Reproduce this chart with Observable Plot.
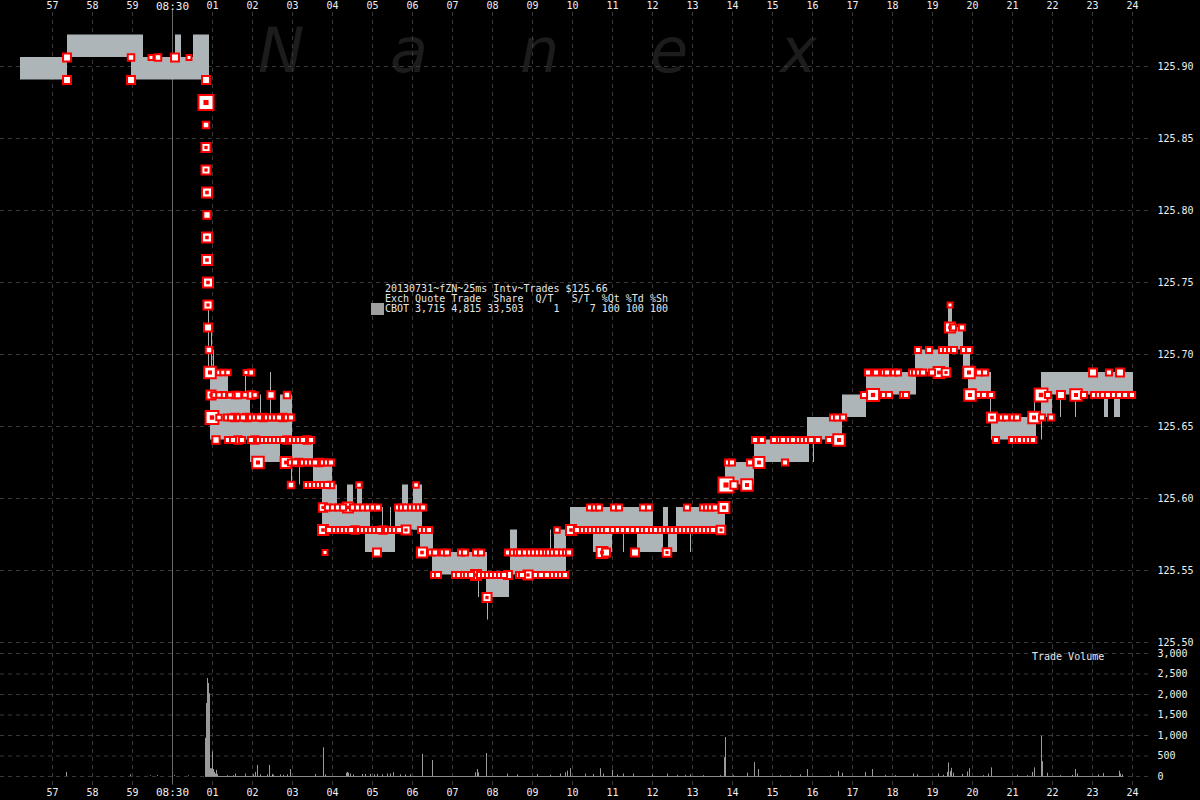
<!DOCTYPE html>
<html><head><meta charset="utf-8">
<script src="https://cdn.jsdelivr.net/npm/d3@7"></script>
<script src="https://cdn.jsdelivr.net/npm/@observablehq/plot@0.6"></script>
<style>
html,body{margin:0;padding:0;background:#000;}
#wrap{position:relative;width:1200px;height:800px;background:#000;overflow:hidden;font-family:"DejaVu Sans Mono",monospace;}
#price{position:absolute;left:0;top:0;}
#vol{position:absolute;left:0;top:645px;}
.wm{position:absolute;top:14px;font-family:"DejaVu Sans",sans-serif;font-style:italic;font-size:62px;color:#1c1c1c;}
#legend{position:absolute;left:385px;top:284px;font-size:10px;line-height:10px;color:#e6e6e6;white-space:pre;}
#swatch{position:absolute;left:371px;top:303px;width:13px;height:12px;background:#a0a0a0;}
#tv{position:absolute;left:1032px;top:651px;font-size:10px;line-height:12px;color:#e8e8e8;}
</style></head>
<body><div id="wrap">
<div class="wm" style="left:258px">N</div><div class="wm" style="left:390px">a</div><div class="wm" style="left:520px">n</div><div class="wm" style="left:650px">e</div><div class="wm" style="left:780px">x</div>
<div id="price"></div><div id="vol"></div>
<div id="swatch"></div>
<div id="legend">20130731~fZN~25ms Intv~Trades $125.66
Exch Quote Trade  Share  Q/T   S/T  %Qt %Td %Sh
CBOT 3,715 4,815 33,503     1     7 100 100 100</div>
<div id="tv">Trade Volume</div>
</div>
<script>
// time in 25ms bins from 08:30:00.000 ; price levels in 64ths above 125
const BASE = 125, TICK = 1/64;
const secTicks = d3.range(-3, 25);
const secLabels = ["57","58","59","08:30","01","02","03","04","05","06","07","08","09","10","11","12","13","14","15","16","17","18","19","20","21","22","23","24"];
const priceTicks = [125.50,125.55,125.60,125.65,125.70,125.75,125.80,125.85,125.90];
const volTicks = [0,500,1000,1500,2000,2500,3000];

// quote band segments: [startBin, endBin, bidLevel, askLevel]
const quotes = [
[-152,-105,57,58],[-105,-41,58,59],[-41,-29,57,59],[-29,3,57,58],[3,9,57,59],[9,21,57,58],[21,37,57,59],
[36,37,44,47],[39,40,44,46],[41,42,44,45],
[38,56,41,44],[56,78,41,43],[78,108,40,42],[98,99,40,44],[73,74,41,44],[88,89,40,43],[43,44,41,44],
[108,120,41,43],[120,141,40,41],[119,120,39,40],[127,128,39,40],[141,160,39,40],
[150,165,37,39],[165,198,37,38],[175,181,37,39],[185,190,37,39],
[193,223,36,37],[210,211,36,38],[218,219,36,38],
[223,248,37,38],[230,236,37,39],[241,250,37,39],[248,261,36,37],
[260,315,35,36],[306,307,34,35],[314,337,34,35],[315,316,33,34],
[338,345,35,37],[345,383,35,36],[378,379,35,37],[382,394,35,37],
[398,421,37,38],[421,440,36,38],[440,465,37,38],[451,452,36,37],[465,481,36,38],[481,491,36,37],[491,496,37,38],[496,505,36,37],[504,553,37,38],[518,519,36,37],
[553,582,39,40],[582,636,40,41],[636,637,40,42],[641,642,40,42],[635,670,41,42],[670,694,42,43],[694,744,43,44],
[743,777,44,45],[776,780,45,47],[779,791,45,46],[791,798,44,45],[796,819,43,44],[818,819,42,44],
[819,864,41,42],[862,863,41,43],[869,870,41,43],[869,932,43,44],[869,880,42,44],[888,889,42,43],[903,904,42,43],
[932,936,42,44],[934,961,43,44],[942,948,42,44]
];

// trades: [bin, priceLevel, size]
const trades = [
[-106,58,20],[-106,57,20],[-42,58,10],[-42,57,20],[-22,58,3],[-15,58,10],[2,58,20],[16,58,3],[33,57,20],
[33,56,120],[33,55,10],[33,54,30],[33,53,30],[34,52,40],[34,51,15],[34,50,40],[34,49,40],[35,48,40],[35,47,30],[35,46,20],[36,45,10],
[37,44,60],[46,44,5],[50,44,5],[55,44,5],[73,44,3],[78,44,8],
[38,43,30],[41,43,5],[46,43,5],[50,43,8],[57,43,5],[62,43,10],[65,43,10],[72,43,5],[78,43,15],[82,43,5],[98,43,15],[114,43,10],
[39,42,80],[46,42,5],[54,42,8],[58,42,8],[62,42,15],[66,42,8],[70,42,8],[74,42,15],[78,42,8],[82,42,8],[86,42,8],[90,42,15],[94,42,8],[98,42,8],[102,42,8],[106,42,8],[110,42,15],[114,42,8],[118,42,8],
[43,41,15],[55,41,8],[60,41,8],[65,41,15],[69,41,8],[78,41,8],[82,41,15],[86,41,8],[90,41,8],[94,41,8],[98,41,8],[102,41,8],[106,41,8],[110,41,8],[114,41,15],[118,41,8],[122,41,8],[126,41,8],[130,41,8],[134,41,15],[138,41,8],
[85,40,60],[113,40,50],[118,40,8],[122,40,8],[126,40,15],[130,40,8],[134,40,8],[138,40,8],[142,40,8],[146,40,15],[150,40,8],[154,40,8],[158,40,8],
[118,39,10],[134,39,8],[138,39,8],[142,39,8],[146,39,8],[150,39,8],[154,39,8],[158,39,10],[186,39,5],[243,39,5],
[150,38,25],[155,38,8],[160,38,8],[165,38,8],[170,38,8],[175,38,40],[180,38,8],[185,38,8],[190,38,8],[195,38,8],[200,38,8],[205,38,8],[225,38,8],[229,38,8],[233,38,8],[238,38,8],[242,38,8],[246,38,8],[250,38,8],
[150,37,40],[156,37,8],[162,37,8],[166,37,8],[170,37,8],[174,37,8],[178,37,8],[182,37,15],[186,37,8],[190,37,8],[194,37,8],[198,37,8],[202,37,8],[206,37,8],[210,37,15],[214,37,8],[218,37,8],[222,37,8],[226,37,8],[233,37,30],[248,37,8],[252,37,8],[256,37,8],
[384,37,5],[398,37,40],[404,37,8],[410,37,8],[414,37,8],[418,37,8],[422,37,8],[426,37,8],[430,37,8],[434,37,8],[440,37,8],[445,37,8],[450,37,8],[455,37,8],[460,37,8],[465,37,8],[470,37,8],[474,37,8],[479,37,8],[483,37,8],[488,37,8],[492,37,8],[496,37,8],[500,37,8],[504,37,8],[508,37,8],[512,37,8],[516,37,8],[520,37,8],[524,37,8],[528,37,8],[532,37,8],[536,37,8],[540,37,8],[548,37,25],
[152,36,3],[204,36,20],[249,36,40],[258,36,8],[262,36,8],[270,36,8],[274,36,8],[288,36,8],[292,36,8],[303,36,8],[308,36,8],[335,36,8],[340,36,8],[344,36,8],[347,36,8],[352,36,8],[357,36,8],[361,36,8],[365,36,8],[369,36,8],[373,36,8],[376,36,8],[380,36,8],[384,36,8],[389,36,8],[393,36,8],[396,36,8],[429,36,50],[433,36,20],[462,36,20],[494,36,25],
[261,35,8],[265,35,8],[282,35,8],[286,35,8],[291,35,8],[294,35,8],[298,35,8],[303,35,40],[307,35,8],[311,35,8],[315,35,8],[319,35,8],[323,35,8],[327,35,8],[331,35,8],[335,35,20],[346,35,8],[349,35,8],[355,35,30],[363,35,8],[368,35,8],[374,35,8],[380,35,8],[384,35,8],[388,35,8],[392,35,8],
[314,34,30],
[417,38,8],[422,38,8],[426,38,8],[441,38,8],[446,38,8],[470,38,8],[476,38,8],[514,38,8],[530,38,8],[534,38,8],[538,38,8],[542,38,8],[551,38,50],
[553,39,120],[561,39,15],[574,39,60],
[555,40,8],[559,40,8],[577,40,8],[586,40,50],[612,40,8],
[582,41,8],[589,41,8],[601,41,8],[607,41,8],[610,41,8],[616,41,8],[620,41,8],[626,41,8],[630,41,8],[634,41,8],[638,41,8],[645,41,8],[656,41,8],[666,41,60],
[660,42,8],[664,42,8],[670,42,8],
[691,43,8],[700,43,70],[711,43,8],[716,43,8],[730,43,8],[733,43,8],
[695,44,8],[703,44,8],[711,44,8],[714,44,8],[721,44,8],[725,44,8],[739,44,8],[742,44,8],[746,44,8],[750,44,8],[759,44,8],[766,44,50],[773,44,25],[796,44,60],[806,44,8],[812,44,8],
[745,45,8],[756,45,8],[769,45,8],[773,45,8],[777,45,8],[781,45,8],[791,45,8],[796,45,8],
[777,46,40],[780,46,8],[789,46,8],[777,47,3],
[797,43,60],[806,43,8],[811,43,8],[818,43,8],[868,43,80],[875,43,8],[888,43,20],[903,43,60],[911,43,8],[921,43,8],[926,43,8],[930,43,8],[935,43,8],[941,43,8],[946,43,8],[952,43,8],[959,43,8],
[819,42,40],[829,42,8],[833,42,8],[840,42,8],[844,42,8],[861,42,60],[869,42,8],[878,42,8],
[823,41,8],[839,41,8],[844,41,8],[847,41,8],[852,41,8],[856,41,8],[860,41,8],
[920,44,20],[936,44,8],[947,44,20]
];

// trade volume per 25ms interval: [bin, contracts]
const vols = [
[-106,100],[-42,40],[-22,15],[-15,20],[2,20],[16,15],
[33,930],[34,1780],[35,2390],[36,2270],[37,2020],[38,190],[39,190],[40,600],[41,170],[42,100],[43,60],[44,150],
[45,50],[55,20],[61,20],[63,60],[73,60],[81,40],[83,100],[85,270],[88,40],[95,40],[97,270],[100,50],[101,30],[108,40],[111,30],[115,40],[118,170],
[143,50],[151,700],[153,40],[174,80],[175,100],[176,80],[178,60],[181,40],[190,50],[193,50],[198,50],[202,40],[205,50],[210,40],[215,60],[218,60],[221,90],
[228,40],[233,40],[238,40],[250,540],[260,390],[303,90],[305,170],[306,90],[314,560],[335,60],[345,40],[365,50],[378,30],[388,60],[393,90],[395,130],[398,190],
[413,60],[421,50],[428,190],[431,60],[440,150],[445,40],[451,60],[461,60],[480,30],[495,60],[505,30],[513,30],[518,40],[531,20],[548,20],
[552,460],[553,950],[561,20],[575,80],[582,340],[586,170],[608,20],[618,20],[628,40],[635,170],[658,20],[666,120],[670,80],[693,100],[700,170],
[713,30],[723,20],[741,60],[745,40],[766,60],[771,30],[775,100],[776,330],[778,120],[779,200],[781,80],[790,50],[795,110],[797,190],
[811,20],[816,60],[819,210],[845,30],[855,20],[860,100],[862,210],[869,980],[870,360],[875,80],[888,20],[900,30],[903,170],[905,60],[926,40],[931,70],[947,130],[948,60],[950,40]
];

const toSec = b => b / 40;
const price = n => BASE + n * TICK;
const xDomain = [-4.3, 24.45];
const R = s => s / Math.sqrt(Math.PI);

const quoteRows = quotes.map(([b0, b1, lo, hi]) => ({x1: toSec(b0), x2: toSec(b1), y1: price(lo), y2: price(hi)}));
const tradeRows = trades.map(([b, n, q]) => ({x: toSec(b + 0.5), y: price(n), side: 5 + 1.1 * Math.sqrt(q)}));
const volRows = vols.map(([b, v]) => ({x1: toSec(b), x2: toSec(b + 1), v}));
const openVols = volRows.filter(d => d.x1 > 0.8);
const baseExt = [d3.min(openVols, d => d.x1), d3.max(openVols, d => d.x2)];

const labelIdx = secTicks.map((d, i) => i);
const common = {background: "transparent", color: "#f0f0f0", fontFamily: "DejaVu Sans Mono", fontSize: "10px", overflow: "visible"};
const gridColor = "#3a3a3a";

const priceChart = Plot.plot({
  width: 1200, height: 645, marginTop: 0, marginBottom: 0, marginLeft: 0, marginRight: 50,
  x: {domain: xDomain, axis: null},
  y: {domain: [125.497917, 125.945833], axis: null},
  r: {type: "identity"},
  style: common,
  marks: [
    Plot.gridY(priceTicks, {stroke: gridColor, strokeOpacity: 1, strokeDasharray: "4,4"}),
    Plot.ruleX(secTicks, {stroke: gridColor, strokeDasharray: "4,4", insetTop: 12}),
    Plot.ruleX([0], {stroke: "#6a6a6a", insetTop: 10}),
    Plot.rect(quoteRows, {x1: "x1", x2: "x2", y1: "y1", y2: "y2", fill: "#adb5b8"}),
    Plot.dot(tradeRows, {x: "x", y: "y", r: d => R(d.side - 2), symbol: "square", fill: "#ffffff", stroke: "#ff0000", strokeWidth: 2}),
    Plot.dot(tradeRows.filter(d => d.side >= 10), {x: "x", y: "y", r: d => R(d.side * 0.3), symbol: "square", fill: "#ff0000"}),
    Plot.axisY(priceTicks, {anchor: "right", tickSize: 0, tickPadding: 7, tickFormat: d => d.toFixed(2), fill: "#f0f0f0", label: null}),
    Plot.text(labelIdx.filter(i => secTicks[i] !== 0), {x: i => secTicks[i], text: i => secLabels[i], frameAnchor: "top", lineAnchor: "middle", dy: 5, fill: "#f0f0f0"}),
    Plot.text(labelIdx.filter(i => secTicks[i] === 0), {x: i => secTicks[i], text: i => secLabels[i], frameAnchor: "top", lineAnchor: "middle", dy: 6, fill: "#f0f0f0", fontSize: 11})
  ]
});
document.getElementById("price").appendChild(priceChart);

const volChart = Plot.plot({
  width: 1200, height: 155, marginTop: 8, marginBottom: 24, marginLeft: 0, marginRight: 50,
  x: {domain: xDomain, axis: null},
  y: {domain: [0, 3000], axis: null},
  style: common,
  marks: [
    Plot.gridY(volTicks, {stroke: gridColor, strokeOpacity: 1, strokeDasharray: "4,4"}),
    Plot.ruleX(secTicks, {stroke: gridColor, strokeDasharray: "4,4", insetTop: -8, insetBottom: -10}),
    Plot.ruleX([0], {stroke: "#6a6a6a", insetTop: -8, insetBottom: -8}),
    Plot.ruleY([0], {x1: baseExt[0], x2: baseExt[1], stroke: "#8a8a8a"}),
    Plot.rect(volRows, {x1: "x1", x2: "x2", y1: 0, y2: "v", fill: "#9a9a9a"}),
    Plot.axisY(volTicks, {anchor: "right", tickSize: 0, tickPadding: 7, tickFormat: d3.format(","), fill: "#f0f0f0", label: null}),
    Plot.text(labelIdx.filter(i => secTicks[i] !== 0), {x: i => secTicks[i], text: i => secLabels[i], frameAnchor: "bottom", lineAnchor: "middle", dy: 16, fill: "#f0f0f0"}),
    Plot.text(labelIdx.filter(i => secTicks[i] === 0), {x: i => secTicks[i], text: i => secLabels[i], frameAnchor: "bottom", lineAnchor: "middle", dy: 16, fill: "#f0f0f0", fontSize: 11})
  ]
});
document.getElementById("vol").appendChild(volChart);
</script>
</body></html>
